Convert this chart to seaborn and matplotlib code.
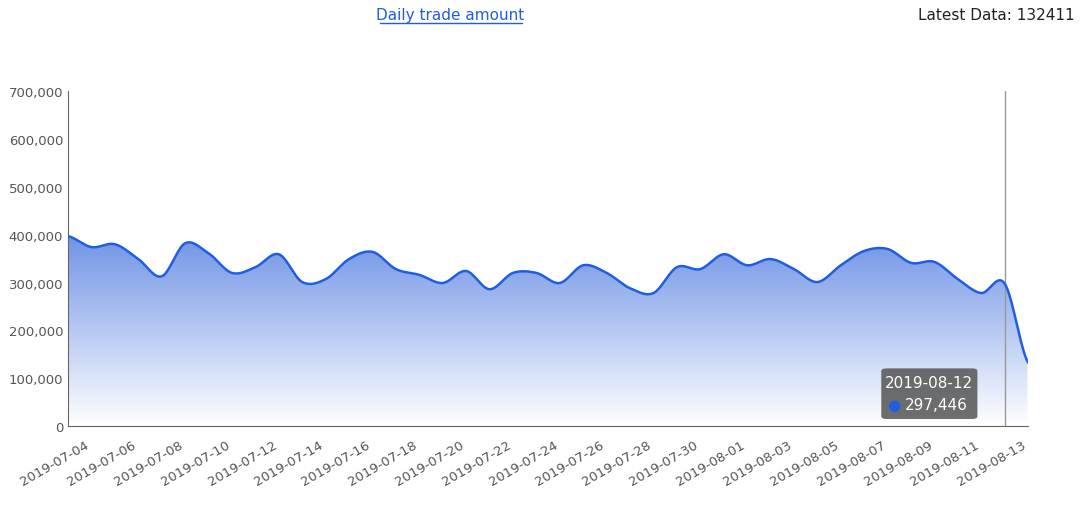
import numpy as np
import pandas as pd
import matplotlib.pyplot as plt
import matplotlib.dates as mdates
from matplotlib.patches import Polygon, FancyBboxPatch
import seaborn as sns

dates = pd.date_range('2019-07-03', '2019-08-13', freq='D')
amounts = [397000, 374000, 380000, 349000, 313000, 382000, 361000, 320000, 332000, 359000,
           301000, 307000, 349000, 364000, 328000, 316000, 299000, 324000, 286000, 320000,
           320000, 299000, 336000, 320000, 288000, 278000, 332000, 328000, 359000, 336000,
           349000, 328000, 301000, 336000, 366000, 370000, 341000, 343000, 307000, 278000,
           297446, 132411]

sns.set_style('white')
plt.rcParams['font.family'] = ['DejaVu Sans']

# smooth curve (Catmull-Rom) for display
x = mdates.date2num(dates)
y = np.array(amounts, dtype=float)
xs, ys = [], []
p = np.concatenate([[y[0]], y, [y[-1]]])
for i in range(len(y) - 1):
    t = np.linspace(0, 1, 20, endpoint=False)
    p0, p1, p2, p3 = p[i], p[i + 1], p[i + 2], p[i + 3]
    seg = 0.5 * (2 * p1 + (-p0 + p2) * t + (2 * p0 - 5 * p1 + 4 * p2 - p3) * t ** 2
                 + (-p0 + 3 * p1 - 3 * p2 + p3) * t ** 3)
    xs.extend(x[i] + t * (x[i + 1] - x[i]))
    ys.extend(seg)
xs.append(x[-1]); ys.append(y[-1])
smooth = pd.DataFrame({'date': mdates.num2date(xs), 'amount': ys})

fig = plt.figure(figsize=(10.8, 5.06), dpi=100)
ax = fig.add_axes([0.063, 0.156, 0.889, 0.662])

# gradient fill
grad = np.linspace(1, 0, 256).reshape(-1, 1)
from matplotlib.colors import LinearSegmentedColormap
cmap = LinearSegmentedColormap.from_list('g', ['#ffffff', '#6f93e6'])
im = ax.imshow(grad[::-1], extent=[x[0], x[-1], 0, 400000], aspect='auto',
               cmap=cmap, origin='lower', zorder=1)
poly = Polygon(np.column_stack([np.r_[xs[0], xs, xs[-1]], np.r_[0, ys, 0]]),
               closed=True, transform=ax.transData, facecolor='none')
ax.add_patch(poly)
im.set_clip_path(poly)

sns.lineplot(data=smooth, x='date', y='amount', ax=ax, color='#1f5ee0', linewidth=1.8, zorder=3)

ax.axvline(mdates.date2num(pd.Timestamp('2019-08-12')), color='#999999', linewidth=1, zorder=2)

ax.set_xlim(x[0], x[-1])
ax.set_ylim(0, 700000)
ax.set_yticks(range(0, 700001, 100000))
ax.yaxis.set_major_formatter(plt.FuncFormatter(lambda v, _: f'{int(v):,}'))
ticks = dates[1::2]
ax.set_xticks(mdates.date2num(ticks))
ax.set_xticklabels([d.strftime('%Y-%m-%d') for d in ticks], rotation=30, ha='right')
ax.tick_params(axis='both', labelsize=9.5, colors='#555555', length=4)
ax.tick_params(axis='y', length=0)
ax.tick_params(axis='x', length=5, color='#666666')
ax.set_xlabel(''); ax.set_ylabel('')
for s in ['top', 'right']:
    ax.spines[s].set_visible(False)
for s in ['left', 'bottom']:
    ax.spines[s].set_color('#666666')

# tooltip
fig.patches.append(FancyBboxPatch((0.816, 0.17), 0.089, 0.1, boxstyle='round,pad=0,rounding_size=0.005',
                                  transform=fig.transFigure, facecolor='#555555', alpha=0.85,
                                  edgecolor='none', zorder=5))
fig.text(0.86, 0.243, '2019-08-12', color='white', fontsize=11, ha='center', va='center', zorder=6)
fig.text(0.828, 0.198, '\u25cf', color='#1f5ee0', fontsize=11, ha='center', va='center', zorder=6)
fig.text(0.838, 0.198, '297,446', color='white', fontsize=11, ha='left', va='center', zorder=6)

fig.text(0.417, 0.97, 'Daily trade amount', color='#1f5ee0', fontsize=11, ha='center', va='center',
         fontweight='normal').set_url(None)
fig.add_artist(plt.Line2D([0.352, 0.483], [0.953, 0.953], color='#1f5ee0', linewidth=1,
                          transform=fig.transFigure))
fig.text(0.995, 0.97, 'Latest Data: 132411', color='#222222', fontsize=11, ha='right', va='center')

fig.savefig('out.png', dpi=100)
